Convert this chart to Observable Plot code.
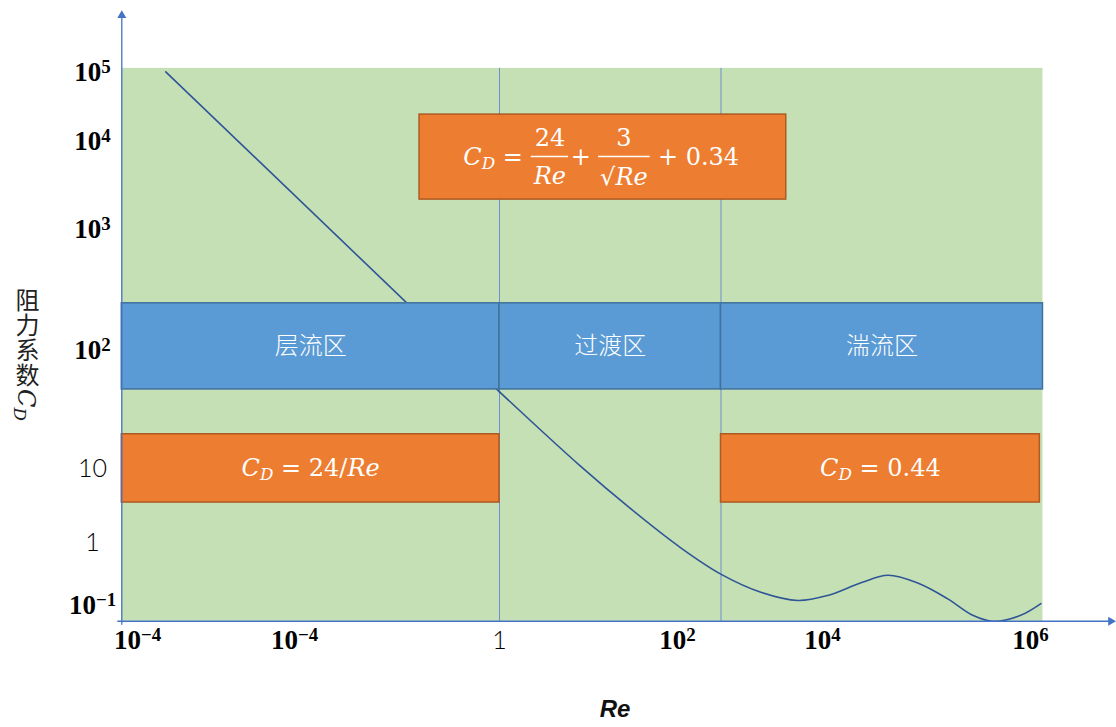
<!DOCTYPE html>
<html>
<head>
<meta charset="utf-8">
<script src="https://cdn.jsdelivr.net/npm/d3@7"></script>
<script src="https://cdn.jsdelivr.net/npm/@observablehq/plot@0.6"></script>
<style>
  body { margin: 0; background: #fff; }
  svg { display: block; }
</style>
</head>
<body>
<div id="chart"></div>
<script>
// Drag coefficient C_D of a sphere against Reynolds number Re, split into
// the laminar, transitional and turbulent regimes. Both axes are in decades
// (log10) and drawn schematically: each decade has its own length.

// ---- tick labels (decade exponents) ----
const xTicks = [-4, -2, 0, 2, 4, 6];                       // log10 Re
const xTickLabels = ["10^{−4}", "10^{−4}", "1", "10^{2}", "10^{4}", "10^{6}"];
const yTicks = [-1, 0, 1, 2, 3, 4, 5];                     // log10 C_D
const yTickLabels = ["10^{−1}", "1", "10", "10^{2}", "10^{3}", "10^{4}", "10^{5}"];

// ---- axis titles ----
const xTitle = "Re";
const yTitleWords = "阻力系数";
const yTitleSymbol = "C_{D}";

// ---- plotted extent and axis arrow tips, in decades ----
const logReExtent = [-4.2, 6.12];
const logCdExtent = [-1.25, 5.06];
const axisTip = { logRe: 6.82, logCd: 5.9 };

// ---- flow regimes ----
const regimeNames = ["层流区", "过渡区", "湍流区"];
const regimeEdges = [-4.2, 0, 2.6, 6.12];                  // log10 Re
const regimeStrip = [1.67, 2.39];                          // log10 C_D

// ---- drag laws ----
const lawTexts = ["C_{D} = 24/Re", "C_{D} = 0.44"];
const lawLogRe = [[-4.2, 0], [2.6, 6.09]];
const lawLogCd = [0.54, 1.29];
const transitionalLogRe = [-0.78, 3.5];
const transitionalLogCd = [3.34, 4.39];

// ---- drag curve ----
const stokesLogRe = [-3.64, 0];
const stokesLogCd = [5.01, 1.65];
const curveLogRe = [0, 0.91, 1.47, 2.04, 2.61, 3.15, 3.66, 4.05, 4.37, 4.63, 4.91, 5.2, 5.45, 5.64, 5.9, 6.1];
const curveLogCd = [1.65, 1.02, 0.46, -0.08, -0.51, -0.79, -0.92, -0.84, -0.64, -0.52, -0.64, -0.89, -1.16, -1.25, -1.16, -0.97];

// ---- schematic axis lengths: pixel position of each decade tick ----
const X_RANGE = [137, 294, 499, 677, 822, 1030];
const Y_RANGE = [605, 542, 468, 350, 229, 141, 72];

const GREEN = "#C5E0B4", BLUE = "#5B9BD5", BLUE_EDGE = "#41719C";
const ORANGE = "#ED7D31", ORANGE_EDGE = "#AE5A21";
const AXIS = "#4472C4", CURVE = "#2F5597", DIVIDER = "#6B90CC";
const MATH_FONT = "'DejaVu Serif', 'Liberation Serif', serif";
const CJK_FONT = "'Noto Sans CJK SC', 'Noto Sans', sans-serif";

// visual centre of a span on the piecewise scales
const xs = d3.scaleLinear(xTicks, X_RANGE);
const ys = d3.scaleLinear(yTicks, Y_RANGE);
const midX = (a, b) => xs.invert((xs(a) + xs(b)) / 2);
const midY = (a, b) => ys.invert((ys(a) + ys(b)) / 2);

const regimes = regimeNames.map((name, i) => ({ name, x1: regimeEdges[i], x2: regimeEdges[i + 1] }));
const laws = lawTexts.map((text, i) => ({ text, x1: lawLogRe[i][0], x2: lawLogRe[i][1] }));
const stokes = stokesLogRe.map((x, i) => ({ x, y: stokesLogCd[i] }));
const curve = curveLogRe.map((x, i) => ({ x, y: curveLogCd[i] }));
const formulaCentre = [{ x: midX(...transitionalLogRe), y: midY(...transitionalLogCd) }];

// role tag on each text element, used by the typesetting pass below
const role = name => () => name;

// pieces of C_D = 24/Re + 3/√Re + 0.34, placed around the box centre
function formulaPiece(text, dx, dy, anchor, kind) {
  return Plot.text(formulaCentre, {
    x: "x", y: "y", text: () => text, dx, dy, textAnchor: anchor,
    fill: "white", fontSize: 24, fontFamily: MATH_FONT, ariaLabel: role(kind)
  });
}

const chart = Plot.plot({
  width: 1116,
  height: 727,
  marginLeft: 121,
  marginRight: 74,
  marginTop: 68,
  marginBottom: 106,
  x: { type: "linear", domain: xTicks, range: X_RANGE, axis: null },
  y: { type: "linear", domain: yTicks, range: Y_RANGE, axis: null },
  marks: [
    // plot area
    Plot.rect([0], { x1: () => logReExtent[0], x2: () => logReExtent[1], y1: () => logCdExtent[0], y2: () => logCdExtent[1], fill: GREEN }),
    // regime boundaries
    Plot.ruleX(regimeEdges.slice(1, -1), { y1: logCdExtent[0], y2: logCdExtent[1], stroke: DIVIDER, strokeWidth: 1 }),
    // drag curve
    Plot.line(stokes, { x: "x", y: "y", stroke: CURVE, strokeWidth: 1.6 }),
    Plot.line(curve, { x: "x", y: "y", curve: "catmull-rom", stroke: CURVE, strokeWidth: 1.6 }),
    // regime strip
    Plot.rect(regimes, { x1: "x1", x2: "x2", y1: () => regimeStrip[0], y2: () => regimeStrip[1], fill: BLUE, stroke: BLUE_EDGE, strokeWidth: 1.5 }),
    Plot.text(regimes, { x: d => midX(d.x1, d.x2), y: () => midY(...regimeStrip), text: "name", fill: "white", fontSize: 24, fontWeight: 300, fontFamily: CJK_FONT }),
    // drag-law boxes
    Plot.rect(laws, { x1: "x1", x2: "x2", y1: () => lawLogCd[0], y2: () => lawLogCd[1], fill: ORANGE, stroke: ORANGE_EDGE, strokeWidth: 1.5 }),
    Plot.text(laws, { x: d => midX(d.x1, d.x2), y: () => midY(...lawLogCd), text: "text", fill: "white", fontSize: 24, fontFamily: MATH_FONT, ariaLabel: role("math") }),
    Plot.rect([0], { x1: () => transitionalLogRe[0], x2: () => transitionalLogRe[1], y1: () => transitionalLogCd[0], y2: () => transitionalLogCd[1], fill: ORANGE, stroke: ORANGE_EDGE, strokeWidth: 1.5 }),
    formulaPiece("C_{D} =", -80, 0, "end", "math"),
    formulaPiece("24", -53, -19, "middle", "numerator"),
    formulaPiece("Re", -53, 19, "middle", "denominator"),
    formulaPiece("+", -22, 0, "middle", "math"),
    formulaPiece("3", 21, -19, "middle", "numerator"),
    formulaPiece("√Re", 21, 20, "middle", "denominator"),
    formulaPiece("+ 0.34", 55, 0, "start", "math"),
    // axes with arrowheads
    Plot.ruleX([logReExtent[0]], { y1: logCdExtent[0], y2: axisTip.logCd, dy: 4, stroke: AXIS, strokeWidth: 1.3 }),
    Plot.ruleY([logCdExtent[0]], { x1: logReExtent[0], x2: axisTip.logRe, dx: -4, stroke: AXIS, strokeWidth: 1.3 }),
    Plot.dot([0], { x: () => logReExtent[0], y: () => axisTip.logCd, dy: 5, symbol: "triangle2", r: 4.3, fill: AXIS, stroke: "none" }),
    Plot.dot([0], { x: () => axisTip.logRe, y: () => logCdExtent[0], dx: -5, rotate: 90, symbol: "triangle2", r: 4.3, fill: AXIS, stroke: "none" }),
    // tick labels
    Plot.text(xTicks, { x: d => d, frameAnchor: "bottom", dy: 27, text: (d, i) => xTickLabels[i], fontSize: 25, fill: "black", ariaLabel: role("tick") }),
    Plot.text(yTicks, { y: d => d, frameAnchor: "left", dx: -29, text: (d, i) => yTickLabels[i], textAnchor: "middle", fontSize: 25, fill: "black", ariaLabel: role("tick") }),
    // axis titles
    Plot.text([xTitle], { frameAnchor: "bottom", dx: 33, dy: 95, text: d => d, fontSize: 24, fontStyle: "italic", fontWeight: "bold", fontFamily: "'Liberation Sans', Arial, sans-serif", fill: "#111" }),
    // y title: CJK set vertically (upright), then the symbol turned with the column
    Plot.text([yTitleWords], { frameAnchor: "left", dx: -94, dy: -57, textAnchor: "start", text: d => d, fontSize: 24, fontFamily: CJK_FONT, fill: "#222", ariaLabel: role("vertical") }),
    Plot.text([yTitleSymbol], { frameAnchor: "left", dx: -96, dy: 44, rotate: 90, textAnchor: "start", text: d => d, fontSize: 24, fontFamily: MATH_FONT, fill: "#222", ariaLabel: role("math") })
  ]
});

document.getElementById("chart").append(chart);

// ---- light math typesetting: _{..} subscripts, ^{..} superscripts, italic letters ----
const SVG_NS = "http://www.w3.org/2000/svg";
function typeset(el, { italic = true } = {}) {
  const src = el.textContent;
  if (!/[_^]\{|[A-Za-z]/.test(src)) return;
  el.textContent = "";
  const re = /([_^])\{([^}]*)\}|([A-Za-z]+)|([^_^A-Za-z]+)/g;
  let m;
  while ((m = re.exec(src))) {
    const t = document.createElementNS(SVG_NS, "tspan");
    if (m[1]) {
      t.textContent = m[2];
      t.setAttribute("font-size", "70%");
      t.setAttribute("baseline-shift", m[1] === "^" ? "42%" : "-22%");
      if (italic && /[A-Za-z]/.test(m[2])) t.setAttribute("font-style", "italic");
    } else if (m[3]) {
      t.textContent = m[3];
      if (italic) t.setAttribute("font-style", "italic");
    } else {
      t.textContent = m[4];
    }
    el.appendChild(t);
  }
}
const texts = kind => chart.querySelectorAll(`text[aria-label="${kind}"]`);

// tick labels: powers of ten in bold serif, plain numbers in a light sans
for (const t of texts("tick")) {
  if (t.textContent.includes("^")) {
    t.setAttribute("font-family", "'Liberation Serif', serif");
    t.setAttribute("font-weight", "bold");
    t.setAttribute("font-size", 27);
  } else {
    t.setAttribute("font-family", "Lato, 'Open Sans', sans-serif");
    t.setAttribute("font-weight", "300");
  }
  typeset(t, { italic: false });
}

for (const kind of ["math", "numerator", "denominator"]) {
  for (const t of texts(kind)) typeset(t);
}

// vertical title text
for (const t of texts("vertical")) {
  t.style.writingMode = "vertical-rl";
  t.style.letterSpacing = "1px";
  t.removeAttribute("y");
}

// fraction bars between numerators and denominators
const box = chart.getBoundingClientRect();
const nums = texts("numerator");
const dens = texts("denominator");
const barY = chart.scale("y").apply(formulaCentre[0].y);
const bars = d3.select(chart).append("g").attr("aria-label", "fraction bars");
nums.forEach((n, i) => {
  const a = n.getBoundingClientRect(), b = dens[i].getBoundingClientRect();
  const left = Math.min(a.left, b.left) - box.left - 2;
  const right = Math.max(a.right, b.right) - box.left + 2;
  bars.append("line")
    .attr("x1", left).attr("x2", right)
    .attr("y1", barY).attr("y2", barY)
    .attr("stroke", "white").attr("stroke-width", 1.5);
});
</script>
</body>
</html>
